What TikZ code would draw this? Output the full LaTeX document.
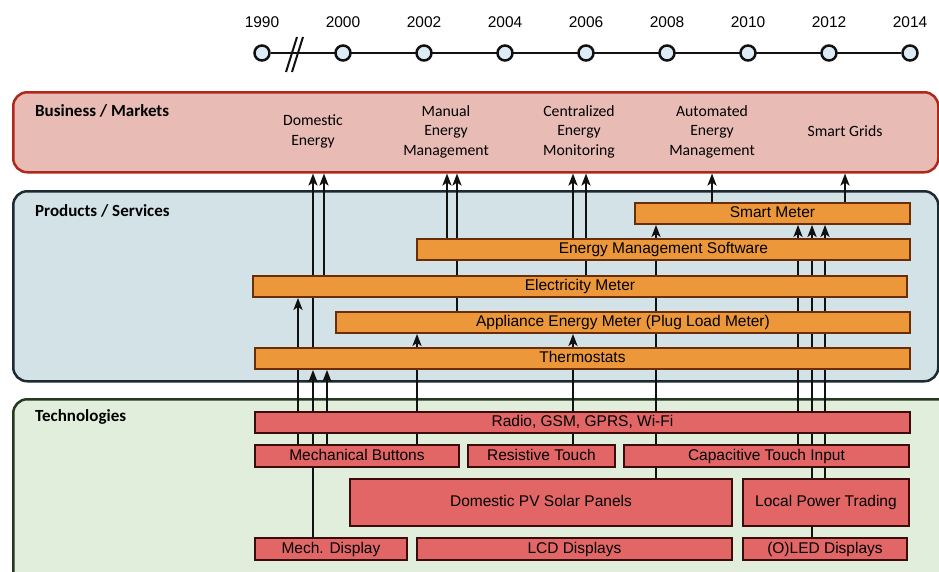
\documentclass[tikz,border=0pt]{standalone}
\usepackage{fontspec}
\setmainfont{Liberation Sans}
\newfontfamily\calibri{Carlito}
\usetikzlibrary{
  arrows.meta,
  backgrounds
}
\definecolor{ink}{HTML}{111111}
\definecolor{bizfill}{HTML}{E9BBB5}
\definecolor{bizline}{HTML}{B0281C}
\definecolor{prodfill}{HTML}{D3E2E7}
\definecolor{prodline}{HTML}{1E2A32}
\definecolor{techfill}{HTML}{E1EEDB}
\definecolor{techline}{HTML}{26381F}
\definecolor{orangebox}{HTML}{EC983A}
\definecolor{orangeline}{HTML}{6B2D05}
\definecolor{redbox}{HTML}{E26666}
\definecolor{redline}{HTML}{3A0C0C}
\definecolor{dotfill}{HTML}{DDEBF7}
\newcommand{\uplink}[3]{\draw[uplink] (#1,0 |- #2) -- (#1,0 |- #3);}
\pgfdeclarelayer{links}
\pgfsetlayers{background,links,main}
\tikzset{
  band/.style={
    line width=2.5pt,
    rounded corners=14pt,
    anchor=north west,
    inner sep=0pt
  },
  bandlabel/.style={
    anchor=west,
    inner sep=0pt,
    font=\calibri\bfseries\fontsize{17}{20}\selectfont
  },
  market/.style={
    align=center,
    inner sep=0pt,
    font=\calibri\fontsize{15.7}{19.5}\selectfont
  },
  prodbox/.style={
    draw=orangeline,
    fill=orangebox,
    line width=1.9pt,
    anchor=north west,
    inner sep=0pt,
    text height=11.5pt,
    text depth=3.2pt,
    font=\fontsize{15.5}{18}\selectfont
  },
  techbox/.style={
    prodbox,
    draw=redline,
    fill=redbox
  },
  yeardot/.style={
    circle,
    draw=ink,
    fill=dotfill,
    line width=2.5pt,
    minimum size=15pt,
    inner sep=0pt
  },
  yearlabel/.style={
    inner sep=0pt,
    font=\fontsize{15.5}{18}\selectfont
  },
  uplink/.style={
    -{Stealth[length=12pt,width=9pt,inset=3pt]},
    line width=2.4pt,
    draw=ink
  },
  timeline/.style={
    line width=2.6pt,
    draw=ink
  }
}

\begin{document}
\begin{tikzpicture}[x=1pt, y=-1pt]
  \useasboundingbox (0,0) rectangle (939,571);

  \begin{pgfonlayer}{background}
    \node[band, draw=bizline, fill=bizfill, minimum width=925pt,
      minimum height=80pt] (bandbiz) at (12,91) {};
    \node[band, draw=prodline, fill=prodfill, minimum width=925pt,
      minimum height=190pt] (bandprod) at (12,190) {};
    \node[band, draw=techline, fill=techfill, minimum width=960pt,
      minimum height=200pt] (bandtech) at (12,398) {};
  \end{pgfonlayer}

  \node[bandlabel] (lblbiz) at (35,111) {Business / Markets};
  \node[bandlabel] (lblprod) at (35,211) {Products / Services};
  \node[bandlabel] (lbltech) at (35,417) {Technologies};

  \foreach \yr/\xx in {1990/262,2000/343,2002/424,2004/505,2006/586,
      2008/667,2010/748,2012/829,2014/910} {
    \node[yeardot] (d\yr) at (\xx,53) {};
    \node[yearlabel] (t\yr) at (\xx,22) {\yr};
  }
  \begin{pgfonlayer}{links}
    \draw[timeline] (d1990) -- (d2014);
  \end{pgfonlayer}
  \draw[timeline, line width=2pt] (286,72) -- (297,37);
  \draw[timeline, line width=2pt] (292,72) -- (303,37);

  \node[market] (domestic) at (313,131.5) {Domestic\\Energy};
  \node[market] (manual) at (446,131.5) {Manual\\Energy\\Management};
  \node[market] (central) at (579,131.5) {Centralized\\Energy\\Monitoring};
  \node[market] (automated) at (712,131.5) {Automated\\Energy\\Management};
  \node[market] (smartgrids) at (845,131.5) {Smart Grids};

  \node[prodbox, minimum width=275pt, minimum height=21pt] (smart)
    at (634,202) {Smart Meter};
  \node[prodbox, minimum width=493pt, minimum height=21pt] (ems)
    at (416,238) {Energy Management Software};
  \node[prodbox, minimum width=654pt, minimum height=21pt] (elec)
    at (252,275) {Electricity Meter};
  \node[prodbox, minimum width=574pt, minimum height=21pt] (plug)
    at (335,311) {Appliance Energy Meter (Plug Load Meter)};
  \node[prodbox, minimum width=655pt, minimum height=21pt] (thermo)
    at (254,347) {Thermostats};

  \node[techbox, minimum width=655pt, minimum height=21pt] (radio)
    at (254,411) {Radio, GSM, GPRS, Wi-Fi};
  \node[techbox, minimum width=204pt, minimum height=22pt] (mechbtn)
    at (254,444) {Mechanical Buttons};
  \node[techbox, minimum width=147pt, minimum height=22pt] (restouch)
    at (467,444) {Resistive Touch};
  \node[techbox, minimum width=285pt, minimum height=22pt] (captouch)
    at (623,444) {Capacitive Touch Input};
  \node[techbox, minimum width=382pt, minimum height=47pt] (pv)
    at (349,478) {Domestic PV Solar Panels};
  \node[techbox, minimum width=166pt, minimum height=47pt] (trading)
    at (742,478) {Local Power Trading};
  \node[techbox, minimum width=152pt, minimum height=22pt] (mechdisp)
    at (254,537) {Mech. Display};
  \node[techbox, minimum width=315pt, minimum height=22pt] (lcd)
    at (416,537) {LCD Displays};
  \node[techbox, minimum width=164pt, minimum height=22pt] (oled)
    at (742,537) {(O)LED Displays};

  \begin{pgfonlayer}{links}
    \uplink{313}{thermo.north}{bandbiz.south}
    \uplink{324}{elec.north}{bandbiz.south}
    \uplink{447}{ems.north}{bandbiz.south}
    \uplink{457}{plug.north}{bandbiz.south}
    \uplink{573}{ems.north}{bandbiz.south}
    \uplink{586}{elec.north}{bandbiz.south}
    \uplink{712}{smart.north}{bandbiz.south}
    \uplink{845}{smart.north}{bandbiz.south}
    \uplink{298}{mechbtn.north}{elec.south}
    \uplink{313}{mechdisp.north}{thermo.south}
    \uplink{327}{mechbtn.north}{thermo.south}
    \uplink{417}{mechbtn.north}{plug.south}
    \uplink{573}{restouch.north}{plug.south}
    \uplink{656}{pv.north}{smart.south}
    \uplink{798}{captouch.north}{smart.south}
    \uplink{812}{oled.north}{smart.south}
    \uplink{825}{trading.north}{smart.south}
  \end{pgfonlayer}
\end{tikzpicture}
\end{document}
